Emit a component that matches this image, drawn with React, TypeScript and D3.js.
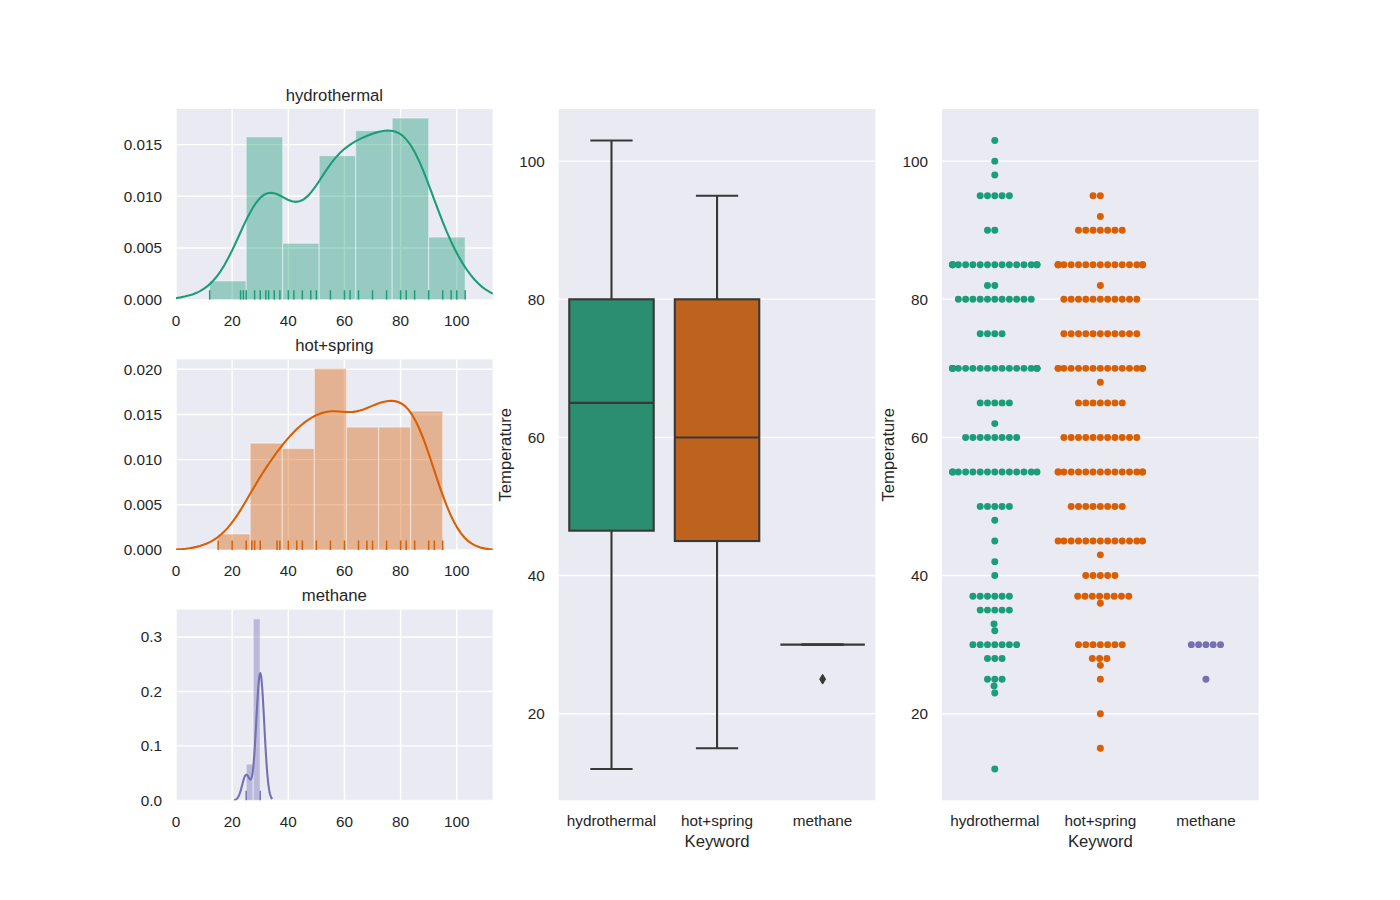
import React from 'react';
import * as d3 from 'd3';

const categories = ['hydrothermal', 'hot+spring', 'methane'];
const palette = ['#1b9e77', '#d95f02', '#7570b3'];

const hydroTemps = [103, 100, 98, 95, 90, 85, 82, 80, 75, 70, 65, 62, 60, 55, 50, 48, 45, 42, 40, 37, 35, 33, 32, 30, 28, 25, 24, 23, 12];
const hydroCounts = [1, 1, 1, 5, 2, 16, 2, 11, 4, 18, 5, 1, 8, 14, 5, 1, 1, 1, 1, 6, 5, 1, 1, 7, 3, 3, 1, 1, 1];
const springTemps = [95, 92, 90, 85, 82, 80, 75, 70, 68, 65, 60, 55, 50, 45, 43, 40, 37, 36, 30, 28, 27, 25, 20, 15];
const springCounts = [2, 1, 7, 16, 1, 11, 11, 15, 1, 7, 11, 15, 8, 13, 1, 5, 8, 1, 7, 3, 1, 1, 1, 1];
const methaneTemps = [30, 25];
const methaneCounts = [5, 1];

const distTicks = [0, 20, 40, 60, 80, 100];
const densityTicks = [
  [0, 0.005, 0.01, 0.015],
  [0, 0.005, 0.01, 0.015, 0.02],
  [0, 0.1, 0.2, 0.3],
];
const densityFormats = ['.3f', '.3f', '.1f'];
const tempTicks = [20, 40, 60, 80, 100];

const expand = (temps: number[], counts: number[]) =>
  temps.flatMap((t, i) => Array(counts[i]).fill(t) as number[]);

const samples = [
  expand(hydroTemps, hydroCounts),
  expand(springTemps, springCounts),
  expand(methaneTemps, methaneCounts),
];

// layout (matplotlib figure 14x9 @ 100dpi)
const FONT = '"Liberation Sans", Arial, sans-serif';
const TEXT = '#262626';
const BG = '#eaeaf2';
const colLeft = [176, 558.7, 942];
const colW = 316.7;
const distTop = [109, 359.3, 609.7];
const distH = 190.7;
const plotTop = 109;
const plotBottom = 800.4;
const tickSize = 15.3;
const labelSize = 16.7;
const distXDomain = [0, 112.8];

const desat = (c: string, p: number) => {
  const h = d3.hsl(c);
  h.s *= p;
  return h.formatHex();
};
const boxColors = palette.map(c => desat(c, 0.75));
const lineGray = (() => {
  const l = d3.min(boxColors, c => d3.hsl(c).l)! * 0.6;
  const v = Math.round(l * 255);
  return d3.rgb(v, v, v).formatHex();
})();

// seaborn distplot: Freedman-Diaconis bins, normed
function histogram(values: number[]) {
  const sorted = [...values].sort(d3.ascending);
  const n = sorted.length;
  const iqr = d3.quantileSorted(sorted, 0.75)! - d3.quantileSorted(sorted, 0.25)!;
  const h = (2 * iqr) / Math.cbrt(n);
  const lo = sorted[0];
  const hi = sorted[n - 1];
  const k = Math.min(h === 0 ? Math.floor(Math.sqrt(n)) : Math.ceil((hi - lo) / h), 50);
  const w = (hi - lo) / k;
  const bins = d3.range(k).map(i => ({ x0: lo + i * w, x1: lo + (i + 1) * w, count: 0 }));
  sorted.forEach(v => {
    let i = Math.floor((v - lo) / w + 1e-9);
    if (i >= k) i = k - 1;
    bins[i].count++;
  });
  return bins.map(b => ({ ...b, density: b.count / (n * w) }));
}

// gaussian kde, scott bandwidth, cut=3, 100 grid points
function kde(values: number[]) {
  const n = values.length;
  const bw = d3.deviation(values)! * Math.pow(n, -0.2);
  const lo = d3.min(values)! - 3 * bw;
  const hi = d3.max(values)! + 3 * bw;
  return d3.range(100).map(i => {
    const g = lo + ((hi - lo) * i) / 99;
    const dens = d3.mean(values, v => Math.exp(-0.5 * ((g - v) / bw) ** 2))! / (bw * Math.sqrt(2 * Math.PI));
    return [g, dens] as [number, number];
  });
}

// seaborn-style beeswarm on pixel y positions, returns x offsets
function beeswarm(ys: number[], d: number, half: number) {
  const placed: { x: number; y: number }[] = [];
  ys.forEach(yi => {
    const neighbors = placed.filter(p => Math.abs(p.y - yi) < d);
    const cands = [0];
    neighbors.forEach(p => {
      const dy = yi - p.y;
      const dx = Math.sqrt(d * d - dy * dy) * 1.05;
      cands.push(p.x - dx, p.x + dx);
    });
    const order = cands
      .map((c, i) => ({ c, i }))
      .sort((a, b) => {
        const diff = Math.abs(a.c) - Math.abs(b.c);
        return Math.abs(diff) > 1e-6 ? diff : a.i - b.i;
      });
    let chosen = order[order.length - 1].c;
    for (const { c } of order) {
      if (neighbors.every(p => (p.x - c) ** 2 + (p.y - yi) ** 2 >= d * d - 1e-6)) {
        chosen = c;
        break;
      }
    }
    placed.push({ x: chosen, y: yi });
  });
  return placed.map(p => Math.max(-half, Math.min(half, p.x)));
}

function boxStats(values: number[]) {
  const s = [...values].sort(d3.ascending);
  const q1 = d3.quantileSorted(s, 0.25)!;
  const med = d3.quantileSorted(s, 0.5)!;
  const q3 = d3.quantileSorted(s, 0.75)!;
  const iqr = q3 - q1;
  const lo = d3.min(s.filter(v => v >= q1 - 1.5 * iqr))!;
  const hi = d3.max(s.filter(v => v <= q3 + 1.5 * iqr))!;
  const fliers = Array.from(new Set(s.filter(v => v < lo || v > hi)));
  return { q1, med, q3, lo, hi, fliers };
}

const DistPanel = ({ idx }: { idx: number }) => {
  const values = samples[idx];
  const color = palette[idx];
  const left = colLeft[0];
  const top = distTop[idx];
  const bottom = top + distH;
  const bins = histogram(values);
  const curve = kde(values);
  const yMax = 1.05 * Math.max(d3.max(bins, b => b.density)!, d3.max(curve, p => p[1])!);
  const x = d3.scaleLinear().domain(distXDomain).range([left, left + colW]);
  const y = d3.scaleLinear().domain([0, yMax]).range([bottom, top]);
  const line = d3.line<[number, number]>().x(p => x(p[0])).y(p => y(p[1]));
  const fmt = d3.format(densityFormats[idx]);
  const clipId = `dist-clip-${idx}`;
  const rugVals = Array.from(new Set(values));

  return (
    <g>
      <clipPath id={clipId}>
        <rect x={left} y={top} width={colW} height={distH} />
      </clipPath>
      <rect x={left} y={top} width={colW} height={distH} fill={BG} />
      <g clipPath={`url(#${clipId})`}>
        {distTicks.map(t => (
          <line key={`gx${t}`} x1={x(t)} x2={x(t)} y1={top} y2={bottom} stroke="#fff" strokeWidth={1.4} />
        ))}
        {densityTicks[idx].map(t => (
          <line key={`gy${t}`} x1={left} x2={left + colW} y1={y(t)} y2={y(t)} stroke="#fff" strokeWidth={1.4} />
        ))}
        {bins.map((b, i) => (
          <rect
            key={i}
            x={x(b.x0)}
            y={y(b.density)}
            width={x(b.x1) - x(b.x0)}
            height={bottom - y(b.density)}
            fill={color}
            fillOpacity={0.4}
            stroke="#fff"
            strokeOpacity={0.4}
            strokeWidth={1.2}
          />
        ))}
        <path d={line(curve) || ''} fill="none" stroke={color} strokeWidth={2.1} />
        {rugVals.map(v => (
          <line key={`r${v}`} x1={x(v)} x2={x(v)} y1={bottom} y2={bottom - 0.05 * distH} stroke={color} strokeWidth={1.5} />
        ))}
      </g>
      {distTicks.map(t => (
        <text key={`tx${t}`} x={x(t)} y={bottom + 26.3} textAnchor="middle" fontSize={tickSize} fill={TEXT}>
          {t}
        </text>
      ))}
      {densityTicks[idx].map(t => (
        <text key={`ty${t}`} x={left - 14} y={y(t)} dy="0.35em" textAnchor="end" fontSize={tickSize} fill={TEXT}>
          {fmt(t)}
        </text>
      ))}
      <text x={left + colW / 2} y={top - 8.5} textAnchor="middle" fontSize={labelSize} fill={TEXT}>
        {categories[idx]}
      </text>
    </g>
  );
};

const allTemps = samples.flat();
const tempExtent = d3.extent(allTemps) as [number, number];
const tempPad = (tempExtent[1] - tempExtent[0]) * 0.05;
const tempDomain = [tempExtent[0] - tempPad, tempExtent[1] + tempPad];

const CatFrame = ({ col, children }: { col: number; children: React.ReactNode }) => {
  const left = colLeft[col];
  const y = d3.scaleLinear().domain(tempDomain).range([plotBottom, plotTop]);
  const x = d3.scaleBand().domain(categories).range([left, left + colW]);
  return (
    <g>
      <rect x={left} y={plotTop} width={colW} height={plotBottom - plotTop} fill={BG} />
      {tempTicks.map(t => (
        <line key={`g${t}`} x1={left} x2={left + colW} y1={y(t)} y2={y(t)} stroke="#fff" strokeWidth={1.4} />
      ))}
      {children}
      {tempTicks.map(t => (
        <text key={`t${t}`} x={left - 14} y={y(t)} dy="0.35em" textAnchor="end" fontSize={tickSize} fill={TEXT}>
          {t}
        </text>
      ))}
      {categories.map(c => (
        <text key={c} x={x(c)! + x.bandwidth() / 2} y={plotBottom + 25.5} textAnchor="middle" fontSize={tickSize} fill={TEXT}>
          {c}
        </text>
      ))}
      <text x={left + colW / 2} y={plotBottom + 46.5} textAnchor="middle" fontSize={labelSize} fill={TEXT}>
        Keyword
      </text>
      <text
        transform={`translate(${left - 48},${(plotTop + plotBottom) / 2}) rotate(-90)`}
        textAnchor="middle"
        fontSize={labelSize}
        fill={TEXT}
      >
        Temperature
      </text>
    </g>
  );
};

const BoxPanel = () => {
  const left = colLeft[1];
  const y = d3.scaleLinear().domain(tempDomain).range([plotBottom, plotTop]);
  const x = d3.scaleBand().domain(categories).range([left, left + colW]);
  const bw = x.bandwidth() * 0.8;
  return (
    <CatFrame col={1}>
      {categories.map((c, i) => {
        const s = boxStats(samples[i]);
        const cx = x(c)! + x.bandwidth() / 2;
        return (
          <g key={c} stroke={lineGray} strokeWidth={2.1}>
            <line x1={cx} x2={cx} y1={y(s.q1)} y2={y(s.lo)} />
            <line x1={cx} x2={cx} y1={y(s.q3)} y2={y(s.hi)} />
            <line x1={cx - bw / 4} x2={cx + bw / 4} y1={y(s.lo)} y2={y(s.lo)} />
            <line x1={cx - bw / 4} x2={cx + bw / 4} y1={y(s.hi)} y2={y(s.hi)} />
            <rect x={cx - bw / 2} y={y(s.q3)} width={bw} height={y(s.q1) - y(s.q3)} fill={boxColors[i]} />
            <line x1={cx - bw / 2} x2={cx + bw / 2} y1={y(s.med)} y2={y(s.med)} />
            {s.fliers.map(f => (
              <path
                key={f}
                d={`M${cx},${y(f) - 4.9}L${cx + 2.95},${y(f)}L${cx},${y(f) + 4.9}L${cx - 2.95},${y(f)}Z`}
                fill={lineGray}
                strokeWidth={1}
              />
            ))}
          </g>
        );
      })}
    </CatFrame>
  );
};

const SwarmPanel = () => {
  const left = colLeft[2];
  const y = d3.scaleLinear().domain(tempDomain).range([plotBottom, plotTop]);
  const x = d3.scaleBand().domain(categories).range([left, left + colW]);
  const d = (5 * 100) / 72;
  return (
    <CatFrame col={2}>
      {categories.map((c, i) => {
        const cx = x(c)! + x.bandwidth() / 2;
        const ys = [...samples[i]].sort(d3.ascending).map(v => y(v));
        const offs = beeswarm(ys, d, x.bandwidth() * 0.4);
        return (
          <g key={c} fill={palette[i]}>
            {ys.map((py, j) => (
              <circle key={j} cx={cx + offs[j]} cy={py} r={d / 2} />
            ))}
          </g>
        );
      })}
    </CatFrame>
  );
};

export default function App() {
  return (
    <svg
      width={1400}
      height={900}
      style={{ position: 'absolute', left: 0, top: 0, background: '#fff' }}
      fontFamily={FONT}
    >
      <rect width={1400} height={900} fill="#fff" />
      {[0, 1, 2].map(i => (
        <DistPanel key={i} idx={i} />
      ))}
      <BoxPanel />
      <SwarmPanel />
    </svg>
  );
}
